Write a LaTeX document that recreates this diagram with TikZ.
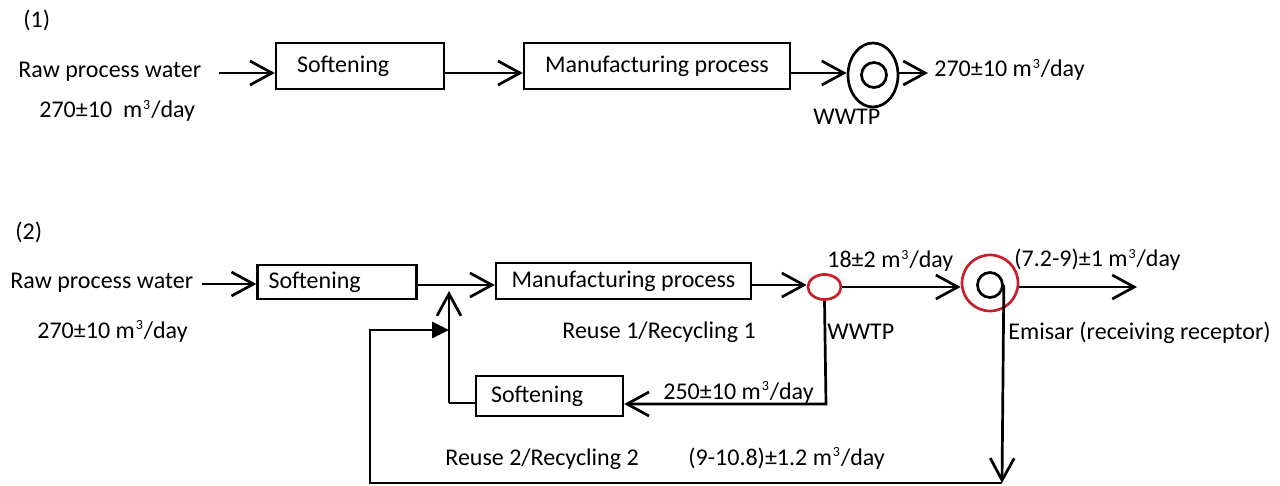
\documentclass[tikz,border=0pt]{standalone}
\usepackage{fontspec}
\setmainfont{Carlito}
\usetikzlibrary{arrows.meta,shapes.geometric}
\definecolor{wwred}{RGB}{200,32,40}
\tikzset{
  lw/.style={line width=1.35pt},
  box/.style={draw, line width=1.2pt, inner ysep=0pt, font=\fontsize{12}{14}\selectfont},
  lbl/.style={anchor=base west, inner sep=0pt, font=\fontsize{12}{14}\selectfont},
  arr/.style={lw, -{Straight Barb[length=11pt,width=12pt,line width=1.35pt]}},
  tri/.style={lw, -{Triangle[length=8.5pt,width=8pt]}},
}
\newcommand{\mday}{m\textsuperscript{\kern0.5pt\scriptsize 3}/day}
\begin{document}
\begin{tikzpicture}[x=0.5pt, y=-0.5pt]
\useasboundingbox (0,0) rectangle (1280,486);

% ---------- scheme (1): once-through use ----------
\node[lbl] (t1) at (23,28) {(1)};
\node[lbl] (raw1) at (18,78) {Raw process water};
\node[lbl] (in1) at (39,118) {270±10\ \ \mday};
\node[box, minimum height=23pt, text width=63pt, inner xsep=10.5pt, align=left] (sof1) at (360,66) {\raisebox{-2pt}{Softening}};
\node[box, minimum height=23pt, minimum width=133pt] (man1) at (657,66) {\raisebox{-1pt}{Manufacturing process}};
\node[draw, lw, ellipse, minimum width=25pt, minimum height=32pt, inner sep=0pt] (ww1) at (873,75) {};
\node[draw, lw, circle, minimum size=12.5pt, inner sep=0pt] (ww1in) at (874,75) {};
\node[lbl] (ww1l) at (813,125) {WWTP};
\node[lbl] (out1) at (934,77) {270±10 \mday};

\coordinate (a1) at (219,73);
\draw[arr] (a1) -- (a1 -| sof1.west);
\draw[arr] (sof1.east |- 0,73) -- (man1.west |- 0,73);
\draw[arr] (man1.east |- 0,73) -- (ww1.west |- 0,73);
\draw[arr] (ww1.east |- 0,73) -- (928,73);

% ---------- scheme (2): reuse and recycling ----------
\node[lbl] (t2) at (15,240) {(2)};
\node[lbl] (raw2) at (10,289) {Raw process water};
\node[lbl] (in2) at (37,338) {270±10 \mday};
\node[box, minimum height=17pt, text width=68.5pt, inner xsep=5.5pt, align=left] (sof2) at (337,282) {Softening};
\node[box, minimum height=18pt, minimum width=127.5pt] (man2) at (623.5,281) {Manufacturing process};
\node[box, minimum height=20pt, text width=58.5pt, inner xsep=7.5pt, align=left] (sof3) at (549.5,396) {Softening};

\node[draw=wwred, lw, ellipse, minimum width=16.5pt, minimum height=12.5pt, inner sep=0pt] (ww2) at (824.5,287) {};
\node[draw=wwred, lw, circle, minimum size=28pt, inner sep=0pt] (em) at (990,283) {};
\node[draw, lw, circle, minimum size=12.5pt, inner sep=0pt] (emin) at (990,285) {};

\node[lbl] (q1) at (827,268) {18±2 \mday};
\node[lbl] (q2) at (1014,267) {(7.2-9)±1 \mday};
\node[lbl] (ww2l) at (827,340) {WWTP};
\node[lbl] (eml) at (1008,340) {Emisar (receiving receptor)};
\node[lbl] (r1) at (562,339) {Reuse 1/Recycling 1};
\node[lbl] (q3) at (663,399) {250±10 \mday};
\node[lbl] (r2) at (445,465) {Reuse 2/Recycling 2};
\node[lbl] (q4) at (688,465) {(9-10.8)±1.2 \mday};

\coordinate (a2) at (202,284);
\coordinate (j1) at (449,285);
\coordinate (j1tip) at (449,291);
\coordinate (j2) at (449,330);
\coordinate (s3j) at (449,403);
\coordinate (wr) at (826,404);
\coordinate (fbc) at (370,330);
\coordinate (fb) at (1002,483);
\coordinate (out2) at (1137,287);

\draw[arr] (a2) -- (a2 -| sof2.west);
\draw[arr] (sof2.east |- j1) -- (man2.west |- j1);
\draw[arr] (s3j) -- (j1tip);
\draw[lw] (sof3.west |- s3j) -- (s3j);
\draw[arr] (man2.east |- 0,285) -- (ww2.west |- 0,285);
\draw[arr] (ww2.east |- 0,287) -- (em.west |- 0,287);
\draw[arr] (em.east |- out2) -- (out2);
\draw[arr] (ww2.south) -- (wr) -- (sof3.east |- wr);
\draw[arr] (emin.east) -- (fb);
\draw[tri] (fb) -| (fbc) -- (j2);
\end{tikzpicture}
\end{document}
